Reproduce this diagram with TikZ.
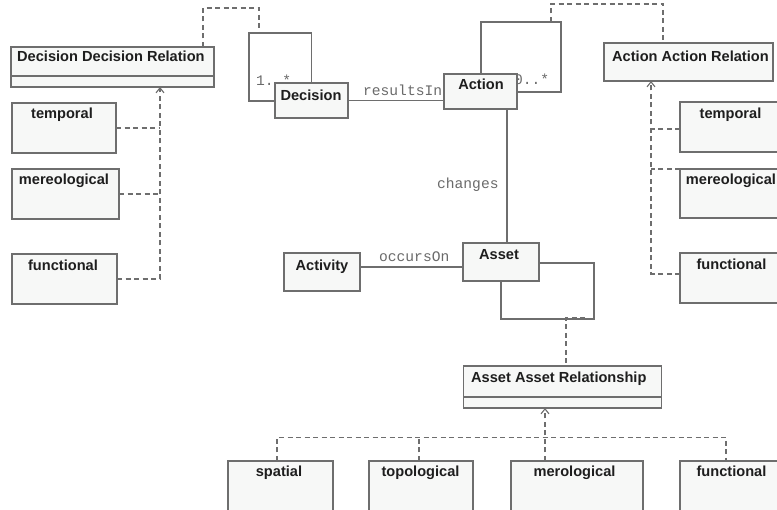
\documentclass[tikz,border=0pt]{standalone}
\usepackage{fontspec}
\setmainfont{Liberation Sans}
\newfontfamily\labelmono{Liberation Mono}
\usetikzlibrary{fit,arrows.meta}
\pgfdeclarelayer{back}
\pgfdeclarelayer{wires}
\pgfsetlayers{back,wires,main}
\definecolor{boxfill}{HTML}{F7F8F7}
\definecolor{edge}{HTML}{6E6E6E}
\definecolor{ink}{HTML}{1E1E1E}
\definecolor{tagink}{HTML}{6A6A6A}
\tikzset{
  cls/.style={draw=edge, fill=boxfill, line width=1.1pt, inner sep=0pt, outer sep=0pt},
  title/.style={font=\fontsize{14.6}{17}\selectfont\bfseries, text=ink, inner sep=0pt, anchor=base},
  tag/.style={font=\fontsize{14.6}{17}\selectfont\labelmono, text=tagink, inner sep=0pt, anchor=base west},
  assoc/.style={draw=edge, line width=1.1pt},
  dep/.style={draw=edge, line width=1.1pt, dash pattern=on 5pt off 3.5pt},
  realize/.style={dep, -{Straight Barb[length=5pt,width=8pt]}},
}
% class box spanned by two corners
\newcommand\umlbox[5]{%
  \path (#2,#3) coordinate (#1-nw) (#4,#5) coordinate (#1-se);
  \node[cls, fit=(#1-nw)(#1-se)] (#1) {};}
\begin{document}
\begin{tikzpicture}[x=1pt,y=-1pt]
\begin{pgfonlayer}{back}
  \fill[white] (0,0) rectangle (777,510);
\end{pgfonlayer}
\useasboundingbox (0,0) rectangle (777,510);
\clip (0,0) rectangle (777,510);

% ---- classes ----
\umlbox{ddr}{11}{47}{214}{87}
\umlbox{ltemp}{12}{103}{116}{153}
\umlbox{lmer}{12}{169}{119}{219}
\umlbox{lfun}{12}{254}{117}{304}
\umlbox{dec}{275}{83}{348}{118}
\umlbox{act}{444}{74}{517}{109}
\umlbox{aar}{604}{43}{773}{81}
\umlbox{rtemp}{680}{102}{782}{152}
\umlbox{rmer}{680}{169}{782}{218}
\umlbox{rfun}{680}{253}{782}{303}
\umlbox{activity}{284}{253}{360}{291}
\umlbox{asset}{463}{243}{539}{281}
\umlbox{asrel}{463.5}{366}{661.5}{408}
\umlbox{spat}{228}{461}{333}{520}
\umlbox{topo}{369}{461}{473}{520}
\umlbox{mero}{511}{461}{643}{520}
\umlbox{bfun}{680}{461}{782}{520}

% attribute compartments
\draw[assoc] (ddr.west |- 0,76) -- (ddr.east |- 0,76);
\draw[assoc] (asrel.west |- 0,397) -- (asrel.east |- 0,397);

% ---- class names ----
\node[title, anchor=base west] (ddr-t) at (17,62) {Decision Decision Relation};
\node[title] (ltemp-t) at (62,119) {temporal};
\node[title] (lmer-t) at (64,185) {mereological};
\node[title] (lfun-t) at (63,271) {functional};
\node[title] (dec-t) at (311,101) {Decision};
\node[title] (act-t) at (481,90) {Action};
\node[title, anchor=base west] (aar-t) at (612,62) {Action Action Relation};
\node[title] (rtemp-t) at (730.5,119) {temporal};
\node[title] (rmer-t) at (731,185) {mereological};
\node[title] (rfun-t) at (731.5,270) {functional};
\node[title] (activity-t) at (322,271) {Activity};
\node[title] (asset-t) at (499,260) {Asset};
\node[title, anchor=base west] (asrel-t) at (471,383) {Asset Asset Relationship};
\node[title] (spat-t) at (279,477) {spatial};
\node[title] (topo-t) at (420.5,477) {topological};
\node[title] (mero-t) at (574.5,477) {merological};
\node[title] (bfun-t) at (731.5,477) {functional};

% ---- connectors and role labels (behind the classes) ----
\begin{pgfonlayer}{wires}
  % multiplicities
  \node[tag] (m-dec) at (256,86) {1..*};
  \node[tag] (m-act) at (514,85) {0..*};
  % association names
  \node[tag] (l-res) at (363,96) {resultsIn};
  \node[tag] (l-chg) at (437,189) {changes};
  \node[tag] (l-occ) at (379,262) {occursOn};

  % Decision self association
  \coordinate (dl1) at (249,33);
  \coordinate (dl2) at (249,101);
  \draw[assoc] (dec.north) |- (dl1) -- (dl2) -- (dl2 -| dec.west);
  % Decision -> Action
  \draw[assoc] (dec.east) -- (dec.east -| act.west);
  % Action self association
  \coordinate (al1) at (481,22);
  \coordinate (al2) at (561,92);
  \draw[assoc] (act.north -| al1) -- (al1) -| (al2) -- (al2 -| act.east);
  % Action -> Asset
  \coordinate (cx) at (507,0);
  \draw[assoc] (act.south -| cx) -- (asset.north -| cx);
  % Activity -> Asset
  \draw[assoc] ([yshift=5pt]activity.east) -- ([yshift=5pt]activity.east -| asset.west);
  % Asset self association
  \coordinate (sl1) at (594,319);
  \draw[assoc] ([yshift=-1pt]asset.east) -| (sl1) -| (asset.south);

  % association classes
  \coordinate (ddtop) at (203,8);
  \coordinate (dlh) at (259,33);
  \draw[dep] (ddtop |- ddr.north) -- (ddtop) -| (dlh);
  \coordinate (ah) at (551,22);
  \coordinate (atop) at (663,4);
  \draw[dep] (ah) |- (atop) -- (atop |- aar.north);
  \coordinate (sd) at (585,318);
  \coordinate (sd2) at (566,318);
  \draw[dep] (sd) -- (sd2) -- (sd2 |- asrel.north);

  % left realisations
  \coordinate (lj) at (160,0);
  \draw[realize] (lfun.east) -| (ddr.south -| lj);
  \draw[dep] (ltemp.east) -- (ltemp.east -| lj);
  \draw[dep] (lmer.east) -- (lmer.east -| lj);

  % right realisations
  \coordinate (rj) at (651,0);
  \draw[realize] ([yshift=4pt]rfun.west) -| (aar.south -| rj);
  \draw[dep] ([yshift=-2pt]rtemp.west) -- ([yshift=-2pt]rtemp.west -| rj);
  \draw[dep] (rmer.north west) -- (rmer.north west -| rj);

  % bottom realisations
  \coordinate (bj) at (0,437.5);
  \coordinate (bt) at (545,0);
  \draw[realize] (mero.north -| bt) -- (asrel.south -| bt);
  \draw[dep] ([xshift=-3.5pt]spat.north) |- ([xshift=-5pt]bj -| bfun.north) -- ([xshift=-5pt]bfun.north);
  \draw[dep] ([xshift=-2pt]topo.north) -- ([xshift=-2pt]topo.north |- bj);
\end{pgfonlayer}
\end{tikzpicture}
\end{document}
